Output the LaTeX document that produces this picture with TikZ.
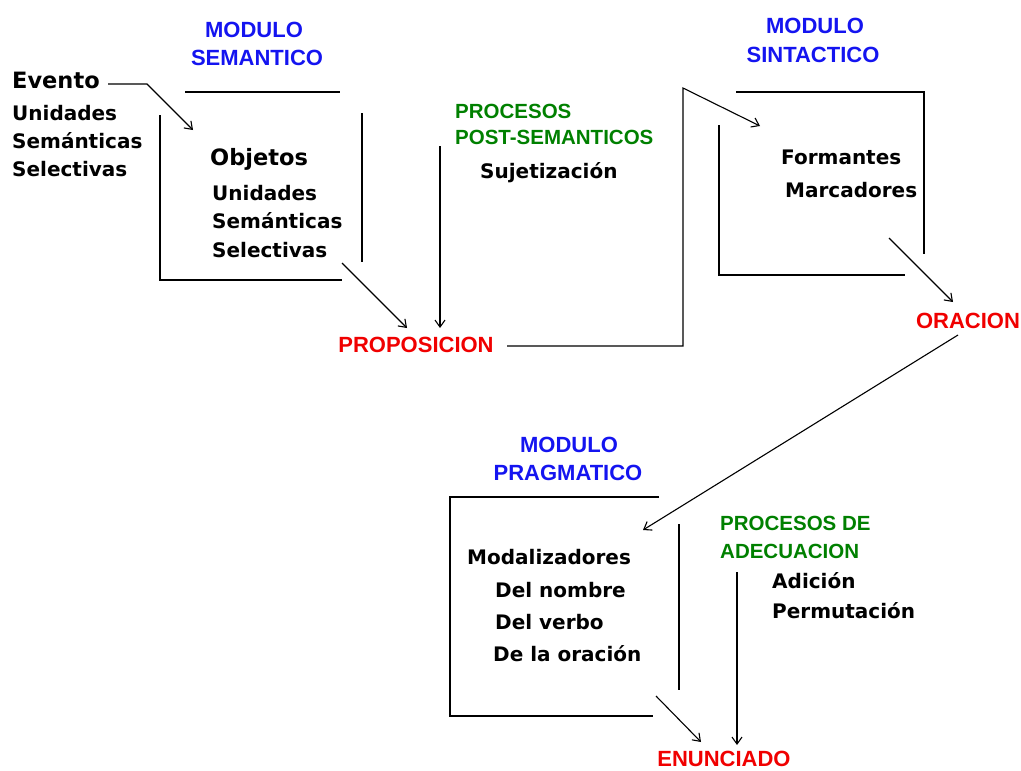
\documentclass[tikz,border=0pt]{standalone}
\usepackage{fontspec}
\newfontfamily\dvs{DejaVu Sans}
\newfontfamily\lbs{Liberation Sans}
\usetikzlibrary{arrows.meta}
\definecolor{modblue}{RGB}{20,20,240}
\definecolor{procgreen}{RGB}{0,128,0}
\definecolor{resred}{RGB}{240,0,0}
\begin{document}
\begin{tikzpicture}[x=1pt,y=-1pt,
  txt/.style={anchor=base west,inner sep=0pt,font=\dvs\bfseries\fontsize{20}{24}\selectfont},
  big/.style={anchor=base west,inner sep=0pt,font=\dvs\bfseries\fontsize{22.5}{27}\selectfont},
  modulo/.style={anchor=base,inner sep=0pt,text=modblue,font=\lbs\bfseries\fontsize{22}{26}\selectfont},
  proc/.style={anchor=base west,inner sep=0pt,text=procgreen,font=\lbs\bfseries\fontsize{20.5}{24}\selectfont},
  result/.style={anchor=base,inner sep=0pt,text=resred,font=\lbs\bfseries\fontsize{22}{26}\selectfont},
  frame/.style={line width=1.4pt},
  flow/.style={line width=1.1pt,-{Straight Barb[length=7pt,width=10pt]}}]
\useasboundingbox (0,0) rectangle (1021,771);

% ---------- Semantic module ----------
\node[modulo] (m1a) at (254,37) {MODULO};
\node[modulo] (m1b) at (257,65) {SEMANTICO};
\node[big] (evento) at (12,88) {Evento};
\node[txt] (u1) at (12,120) {Unidades};
\node[txt] (s1) at (12,148) {Semánticas};
\node[txt] (sel1) at (12,176) {Selectivas};
\node[big] (objetos) at (210,165) {Objetos};
\node[txt] (u2) at (212,200) {Unidades};
\node[txt] (s2) at (212,228) {Semánticas};
\node[txt] (sel2) at (212,257) {Selectivas};
\draw[frame] (185,92) -- (340,92);
\draw[frame] (362,113) -- (362,262);
\draw[frame] (160,115) -- (160,280) -- (342,280);

% ---------- Post-semantic processes ----------
\node[proc] (pp1) at (455,118) {PROCESOS};
\node[proc] (pp2) at (455,144) {POST-SEMANTICOS};
\node[txt] (suj) at (480,178) {Sujetización};

\node[result] (prop) at (416,352) {PROPOSICION};

% ---------- Syntactic module ----------
\node[modulo] (m2a) at (815,33) {MODULO};
\node[modulo] (m2b) at (813,62) {SINTACTICO};
\node[txt] (form) at (781,164) {Formantes};
\node[txt] (marc) at (785,197) {Marcadores};
\draw[frame] (736,92) -- (924,92) -- (924,254);
\draw[frame] (719,125) -- (719,275) -- (905,275);

\node[result] (orac) at (968,328) {ORACION};

% ---------- Pragmatic module ----------
\node[modulo] (m3a) at (569,452) {MODULO};
\node[modulo] (m3b) at (568,480) {PRAGMATICO};
\node[txt] (moda) at (467,564) {Modalizadores};
\node[txt] (dn) at (495,597) {Del nombre};
\node[txt] (dv) at (495,629) {Del verbo};
\node[txt] (dlo) at (493,661) {De la oración};
\draw[frame] (659,497) -- (450,497) -- (450,716) -- (653,716);
\draw[frame] (679,524) -- (679,690);

\node[proc] (pa1) at (720,530) {PROCESOS DE};
\node[proc] (pa2) at (720,558) {ADECUACION};
\node[txt] (adic) at (772,588) {Adición};
\node[txt] (perm) at (772,618) {Permutación};

\node[result] (enun) at (724,766) {ENUNCIADO};

% ---------- connectors ----------
\coordinate (ev0) at (108,84);
\coordinate (ev1) at (147,84);
\coordinate (ev2) at (193,130);
\draw[flow] (ev0) -- (ev1) -- (ev2);

\coordinate (sp0) at (342,263);
\coordinate (sp1) at (407,328);
\draw[flow] (sp0) -- (sp1);

\coordinate (ps0) at (440,146);
\coordinate (ps1) at (440,328);
\draw[flow] (ps0) -- (ps1);

\coordinate (pr0) at (507,346);
\coordinate (pr1) at (683,346);
\coordinate (pr2) at (683,88);
\coordinate (pr3) at (760,126);
\draw[flow] (pr0) -- (pr1) -- (pr2) -- (pr3);

\coordinate (so0) at (889,238);
\coordinate (so1) at (953,302);
\draw[flow] (so0) -- (so1);

\coordinate (op0) at (958,335);
\coordinate (op1) at (643,530);
\draw[flow] (op0) -- (op1);

\coordinate (pe0) at (656,696);
\coordinate (pe1) at (701,742);
\draw[flow] (pe0) -- (pe1);

\coordinate (ad0) at (737,572);
\coordinate (ad1) at (737,745);
\draw[flow] (ad0) -- (ad1);
\end{tikzpicture}
\end{document}
